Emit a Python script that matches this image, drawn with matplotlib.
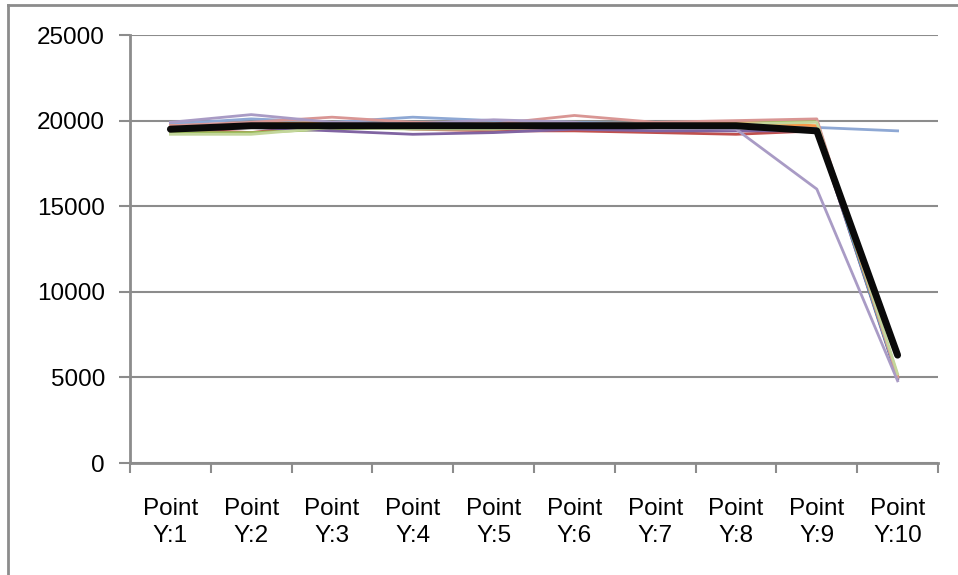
import matplotlib.pyplot as plt
from matplotlib.lines import Line2D
from matplotlib.ticker import FixedLocator

x = list(range(1, 11))
x_labels = ["Point\nY:%d" % i for i in x]

blue = [19800, 20100, 19900, 20200, 20000, 19900, 19800, 19700, 19600, 19400]
red = [19500, 19300, 19800, 19500, 19400, 19400, 19300, 19200, 19400, 5000]
green = [19300, 19300, 19500, 19600, 19600, 19600, 19700, 19900, 20000, 5000]
purple = [19400, 19600, 19400, 19200, 19300, 19500, 19400, 19400, 19400, 4900]
aqua = [19600, 19900, 19800, 19600, 19700, 19900, 19600, 19700, 19500, 5000]
orange = [19700, 19800, 19900, 19700, 19800, 19800, 19800, 19900, 19700, 5100]
pink = [19700, 19900, 20200, 19900, 19800, 20300, 19900, 20000, 20100, 5000]
lavender = [19900, 20350, 19900, 19800, 20050, 19900, 19600, 19500, 16000, 4800]
lightgreen = [19200, 19200, 19600, 19500, 19500, 19700, 19600, 19800, 19900, 5200]
average = [19500, 19700, 19700, 19700, 19700, 19700, 19700, 19700, 19400, 6300]

series = [
    (blue, '#8EA8D4'),
    (red, '#C0504D'),
    (green, '#9BBB59'),
    (purple, '#8064A2'),
    (aqua, '#4BACC6'),
    (orange, '#F79646'),
    (pink, '#D99694'),
    (lavender, '#A99BC5'),
    (lightgreen, '#C3D69B'),
]

plt.rcParams['font.family'] = ['Liberation Sans', 'DejaVu Sans']

fig = plt.figure(figsize=(9.58, 5.75), dpi=100)
ax = fig.add_axes([130/958, 112/575, 808/958, 428/575])

for vals, col in series:
    ax.plot(x, vals, color=col, lw=2, zorder=3)
ax.plot(x, average, color='#0A0A0A', lw=5, solid_capstyle='round', zorder=4)

ax.set_xlim(0.5, 10.5)
ax.set_ylim(0, 25000)
ax.set_yticks([0, 5000, 10000, 15000, 20000, 25000])
ax.yaxis.grid(True, color='#8C8C8C', lw=1.5)
ax.set_axisbelow(True)

ax.xaxis.set_major_locator(FixedLocator([i + 0.5 for i in range(0, 11)]))
ax.xaxis.set_major_formatter(plt.NullFormatter())
ax.xaxis.set_minor_locator(FixedLocator(x))
ax.set_xticklabels(x_labels, minor=True, linespacing=1.3)
ax.tick_params(axis='x', which='major', direction='out', length=7, width=1.5, color='#8C8C8C')
ax.tick_params(axis='x', which='minor', length=0, pad=25, labelsize=17.5)
ax.tick_params(axis='y', direction='out', length=8, width=1.5, color='#8C8C8C', labelsize=17.5, pad=10)

for s in ['top', 'right']:
    ax.spines[s].set_visible(False)
for s in ['left', 'bottom']:
    ax.spines[s].set_color('#8C8C8C')
    ax.spines[s].set_linewidth(2)

# outer chart border (left and top only visible)
fig.add_artist(Line2D([8/958, 8/958], [0, 1 - 5/575], color='#8C8C8C', lw=2))
fig.add_artist(Line2D([8/958, 1], [1 - 5/575, 1 - 5/575], color='#8C8C8C', lw=2))

plt.savefig('out.png')
